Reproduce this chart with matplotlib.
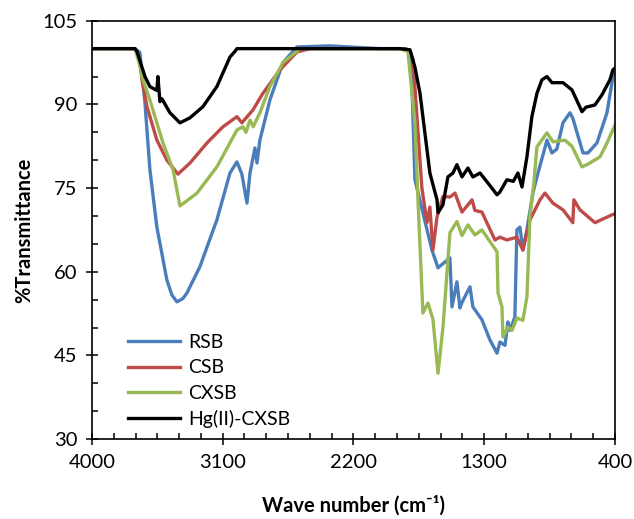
import matplotlib
matplotlib.use('Agg')
import matplotlib.pyplot as plt
from matplotlib.ticker import FixedLocator, MultipleLocator

plt.rcParams['font.family'] = ['Lato', 'DejaVu Sans']

# RSB
rsb_wn = [4000, 3704, 3670, 3635, 3601, 3553, 3484, 3449, 3415, 3374, 3346, 3257, 3140, 3050,
          3002, 2968, 2933, 2912, 2878, 2864, 2844, 2775, 2685, 2589, 2362, 2018,
          1846, 1825, 1804, 1777, 1660, 1618, 1536, 1522, 1488, 1467, 1453, 1398,
          1378, 1316, 1261, 1212, 1192, 1157, 1137, 1123, 1089, 1082, 1075, 1054,
          1034, 1006, 965, 937, 868, 834, 800, 758, 710, 690, 620, 586, 524, 455,
          414, 400]
rsb_t = [100, 100, 99.3, 90.3, 78.3, 68, 58.5, 55.8, 54.6, 55.2, 56.2, 60.9, 69.3, 77.7,
         79.7, 77.5, 72.3, 77.7, 82.2, 79.5, 83.6, 90.8, 97.5, 100.3, 100.5, 100,
         100, 99.8, 99, 76.5, 63.9, 60.7, 62.5, 53.7, 58.2, 53.5, 54.5, 57.3,
         53.7, 51.4, 47.8, 45.4, 47.4, 46.8, 51, 49.5, 51.9, 60, 67.5, 68,
         63.9, 67.5, 74.1, 77, 83.6, 81.3, 82, 86.7, 88.5, 87.5, 81.3, 81.3, 83.1, 88.5,
         95, 95.5]

# CSB
csb_wn = [4000, 3704, 3670, 3656, 3621, 3553, 3484, 3408, 3325, 3208, 3098, 3002,
          2968, 2892, 2823, 2706, 2589, 2500, 1880, 1811, 1790, 1729, 1694, 1674,
          1653, 1625, 1584, 1536, 1501, 1453, 1384, 1364, 1316, 1226, 1192, 1144,
          1075, 1034, 985, 916, 882, 827, 758, 690, 683, 641, 538, 421, 400]
csb_t = [100, 100, 98, 94.4, 89.6, 83.6, 80, 77.5, 79.5, 83.1, 86, 87.8,
         86.7, 89, 92, 96.2, 99.4, 100, 100, 99.5, 98, 75, 68.8, 71.6,
         63.9, 69.8, 73.5, 73.4, 74.1, 70.7, 72.9, 71, 70.7, 65.7, 66.2, 65.7,
         66.2, 63.9, 69.3, 72.9, 74.1, 72.3, 71.1, 68.8, 72.9, 71.1, 68.8, 70.2, 70.4]

# CXSB
cxsb_wn = [4000, 3704, 3670, 3656, 3601, 3511, 3442, 3394, 3277, 3140, 3002, 2961,
           2940, 2912, 2890, 2844, 2775, 2685, 2568, 1880, 1825, 1777, 1756, 1722,
           1687, 1653, 1618, 1584, 1536, 1488, 1453, 1412, 1364, 1316, 1212, 1205,
           1178, 1171, 1137, 1109, 1075, 1034, 1006, 985, 958, 937, 868, 827, 745,
           696, 627, 586, 503, 455, 400]
cxsb_t = [100, 100, 97, 95, 90.8, 83.1, 78.3, 71.8, 74.1, 78.8, 85.4, 86,
          85, 87.2, 86, 88.5, 93.2, 97.5, 100, 100, 99.5, 86.7, 72.9, 52.6,
          54.4, 51.5, 41.8, 50, 67, 69, 66.5, 68.4, 66.6, 67.5, 63.6, 56.2,
          53.7, 48.3, 50.1, 49.5, 51.7, 51.3, 55.5, 70, 76, 82.4, 84.9, 83.3, 83.6,
          82.5, 78.8, 79.3, 80.6, 83.1, 86.3]

# Hg(II)-CXSB
hg_wn = [4000, 3704, 3690, 3656, 3635, 3601, 3553, 3546, 3532, 3518, 3463, 3394,
         3325, 3236, 3140, 3050, 3016, 3002, 1880, 1811, 1777, 1742, 1722, 1674,
         1625, 1618, 1584, 1550, 1515, 1488, 1453, 1412, 1378, 1329, 1274, 1212,
         1192, 1144, 1100, 1068, 1040, 1006, 972, 937, 903, 868, 834, 758, 696,
         627, 600, 538, 490, 435, 414, 400]
hg_t = [100, 100, 99.5, 96.7, 95, 93.2, 92.5, 95, 90.5, 91, 88.5, 86.7,
        87.6, 89.6, 93.2, 98.5, 99.5, 100, 100, 99.8, 96.7, 92, 87.8, 77.7,
        72.9, 70.6, 72, 77, 77.7, 79.2, 77, 78.6, 77, 77.7, 75.9, 73.8,
        74.3, 76.5, 76.2, 77.7, 75.2, 80.6, 87.8, 92, 94.4, 95, 93.9, 93.9, 92.6,
        88.7, 89.5, 89.9, 91.7, 94.4, 96.2, 96.5]

x_ticks = [4000, 3100, 2200, 1300, 400]

fig = plt.figure(figsize=(6.34, 5.19), dpi=100)
ax = fig.add_axes([0.145, 0.154, 0.825, 0.806])

lw = 2.4
ax.plot(rsb_wn, rsb_t, color='#4A7EBB', lw=lw, label='RSB', solid_joinstyle='round')
ax.plot(csb_wn, csb_t, color='#BE4B48', lw=lw, label='CSB', solid_joinstyle='round')
ax.plot(cxsb_wn, cxsb_t, color='#98B954', lw=lw, label='CXSB', solid_joinstyle='round')
ax.plot(hg_wn, hg_t, color='black', lw=lw, label='Hg(II)-CXSB', solid_joinstyle='round')

ax.set_xlim(4000, 400)
ax.set_ylim(30, 105)
ax.xaxis.set_major_locator(FixedLocator(x_ticks))
ax.xaxis.set_minor_locator(FixedLocator(list(range(400, 4001, 150))))
ax.yaxis.set_major_locator(MultipleLocator(15))
ax.yaxis.set_minor_locator(MultipleLocator(5))
ax.tick_params(which='major', direction='inout', length=9, width=1.1,
               labelsize=14.5, pad=6)
ax.tick_params(which='minor', direction='in', length=4, width=1.1)
for s in ax.spines.values():
    s.set_linewidth(1.2)

ax.set_xlabel('Wave number (cm⁻¹)', fontsize=14.5, fontweight='bold', labelpad=18)
ax.set_ylabel('%Transmittance', fontsize=14.5, fontweight='bold', labelpad=6)

ax.legend(loc='lower left', bbox_to_anchor=(0.035, -0.015), frameon=False,
          fontsize=14, handlelength=2.7, labelspacing=0.42, handletextpad=0.4)

fig.savefig('out.png', dpi=100)
